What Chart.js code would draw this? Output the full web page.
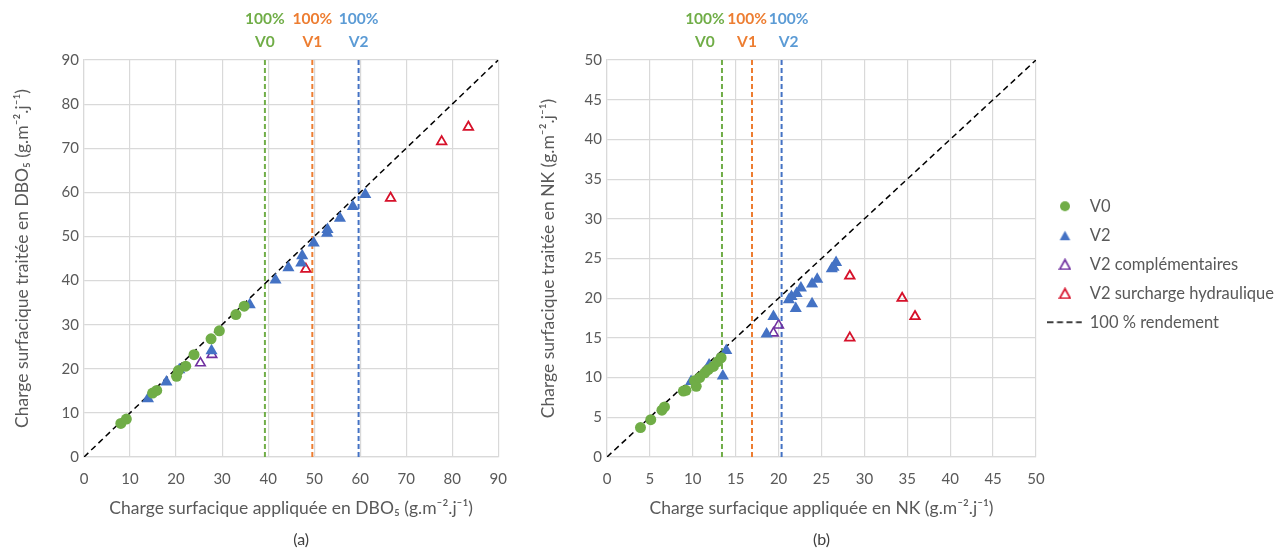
<!DOCTYPE html>
<html>
<head>
<meta charset="utf-8">
<script src="https://cdn.jsdelivr.net/npm/chart.js@4.4.1/dist/chart.umd.min.js"></script>
<style>
  body { margin: 0; background: #fff; width: 1277px; height: 551px; overflow: hidden; position: relative; }
  #chartA { position: absolute; left: 0; top: 0; }
  #chartB { position: absolute; left: 520px; top: 0; }
</style>
</head>
<body>
<canvas id="chartA" width="520" height="551"></canvas>
<canvas id="chartB" width="764" height="551"></canvas>
<script>
// (a) DBO5
const DBO_V0_X = [8.0, 9.2, 14.9, 15.8, 20.1, 20.5, 22.1, 23.9, 27.6, 29.4, 33.0, 34.8];
const DBO_V0_Y = [7.6, 8.6, 14.5, 15.1, 18.3, 19.6, 20.6, 23.2, 26.8, 28.6, 32.3, 34.2];
const DBO_V2_X = [13.9, 17.9, 20.7, 27.7, 36.0, 41.6, 44.4, 47.2, 47.4, 49.9, 52.8, 52.9, 55.6, 58.4, 61.1];
const DBO_V2_Y = [13.2, 17.0, 19.8, 24.1, 34.5, 40.1, 42.9, 44.0, 45.6, 48.5, 50.7, 51.6, 54.1, 56.8, 59.5];
const DBO_COMP_X = [25.3, 27.8];
const DBO_COMP_Y = [21.3, 23.2];
const DBO_SURCH_X = [48.2, 66.6, 77.7, 83.5];
const DBO_SURCH_Y = [42.6, 58.7, 71.5, 74.8];
const DBO_REF_LINES = [39.3, 49.6, 59.65]; // 100% V0, V1, V2

// (b) NK
const NK_V0_X = [3.9, 5.1, 6.4, 6.7, 8.9, 9.2, 10.4, 10.2, 10.8, 11.4, 11.8, 12.4, 12.9, 13.3];
const NK_V0_Y = [3.7, 4.7, 5.9, 6.3, 8.3, 8.4, 8.9, 9.6, 10.0, 10.6, 11.0, 11.4, 12.0, 12.5];
const NK_V2_X = [9.8, 11.9, 13.5, 13.9, 18.6, 19.4, 21.2, 21.5, 22.0, 22.1, 22.6, 23.9, 23.9, 24.5, 26.2, 26.4, 26.7];
const NK_V2_Y = [9.5, 11.6, 10.2, 13.4, 15.5, 17.7, 19.8, 20.2, 18.7, 20.6, 21.3, 19.3, 21.8, 22.4, 23.7, 23.9, 24.5];
const NK_COMP_X = [19.4, 20.0];
const NK_COMP_Y = [15.6, 16.6];
const NK_SURCH_X = [28.3, 28.3, 34.4, 35.9];
const NK_SURCH_Y = [22.8, 15.0, 20.0, 17.7];
const NK_REF_LINES = [13.4, 16.9, 20.35];

const REF_NAMES = ['V0', 'V1', 'V2'];
const SERIES_NAMES = ['V0', 'V2', 'V2 complémentaires', 'V2 surcharge hydraulique', '100 % rendement'];

const FONT = 'Lato, "Open Sans", sans-serif';
const TEXT = '#595959';
const GRID = '#D9D9D9';
const GREEN = '#70AD47', BLUE = '#4472C4', PURPLE = '#7030A0', RED = '#D6112A', ORANGE = '#ED7D31';
const LINE_COLORS = [GREEN, ORANGE, BLUE];
const LABEL_COLORS = ['#70AD47', '#ED7D31', '#5B9BD5'];

function pts(xs, ys) {
  return xs.map((x, i) => ({ x: x, y: ys[i] }));
}

function buildDatasets(s, max) {
  const sets = [
    { label: SERIES_NAMES[0], data: pts(s.v0x, s.v0y), pointStyle: 'circle', pointRadius: 5.5,
      backgroundColor: GREEN, borderColor: GREEN, borderWidth: 0 },
    { label: SERIES_NAMES[1], data: pts(s.v2x, s.v2y), pointStyle: 'triangle', pointRadius: 7,
      backgroundColor: BLUE, borderColor: BLUE, borderWidth: 0 },
    { label: SERIES_NAMES[2], data: pts(s.cx, s.cy), pointStyle: 'triangle', pointRadius: 5.5,
      backgroundColor: 'rgba(255,255,255,0)', borderColor: PURPLE, borderWidth: 1.6 },
    { label: SERIES_NAMES[3], data: pts(s.sx, s.sy), pointStyle: 'triangle', pointRadius: 5.5,
      backgroundColor: 'rgba(255,255,255,0)', borderColor: RED, borderWidth: 1.8 },
    { label: SERIES_NAMES[4], data: [{ x: 0, y: 0 }, { x: max, y: max }], showLine: true, pointRadius: 0,
      borderColor: '#000', borderWidth: 1.5, borderDash: [6, 4], backgroundColor: '#000', order: 5 }
  ];
  s.refs.forEach((v, i) => {
    sets.push({ label: 'ref' + i, data: [{ x: v, y: 0 }, { x: v, y: max }], showLine: true, pointRadius: 0,
      borderColor: LINE_COLORS[i], borderWidth: 2, borderDash: [5, 3], order: 6 });
  });
  return sets;
}

function buildScales(max, step, xTitle, yTitle, yWidth, yTitlePad) {
  return {
    x: {
      type: 'linear', min: 0, max: max,
      ticks: { stepSize: step, color: TEXT, font: { family: FONT, size: 15 }, padding: 13 },
      grid: { color: GRID, lineWidth: 1.2, drawTicks: false },
      border: { color: GRID, width: 1.2 },
      title: { display: true, text: xTitle, color: TEXT, font: { family: FONT, size: 17.5 }, padding: { top: 0, bottom: 2 } },
      afterFit: function (sc) { sc.height = 64; }
    },
    y: {
      type: 'linear', min: 0, max: max,
      ticks: { stepSize: step, color: TEXT, font: { family: FONT, size: 15 }, padding: 5 },
      grid: { color: GRID, lineWidth: 1.2, drawTicks: false },
      border: { color: GRID, width: 1.2 },
      title: { display: true, text: yTitle, color: TEXT, font: { family: FONT, size: 17.5 }, padding: { top: yTitlePad, bottom: 0 } },
      afterFit: function (sc) { sc.width = yWidth; }
    }
  };
}

// labels "100% Vx" above the dashed lines + caption below the chart
const topLabels = {
  id: 'topLabels',
  afterDraw(chart, args, opts) {
    const ctx = chart.ctx;
    const xs = chart.scales.x;
    ctx.save();
    ctx.textAlign = 'center';
    ctx.textBaseline = 'middle';
    ctx.font = '700 15.5px ' + FONT;
    opts.values.forEach((v, i) => {
      const px = xs.getPixelForValue(v) + opts.shift[i];
      ctx.fillStyle = LABEL_COLORS[i];
      ctx.fillText('100%', px, 19);
      ctx.fillText(REF_NAMES[i], px, 42);
    });
    ctx.font = '16px ' + FONT;
    ctx.fillStyle = '#404040';
    ctx.fillText(opts.caption, (chart.chartArea.left + chart.chartArea.right) / 2 + opts.captionShift, 540);
    ctx.restore();
  }
};

// legend markers as small canvases (so every item keeps the same box width)
function marker(w, h, draw) {
  const c = document.createElement('canvas');
  c.width = w; c.height = h;
  draw(c.getContext('2d'));
  return c;
}
function tri(ctx, fill, stroke) {
  ctx.beginPath();
  ctx.moveTo(6.5, 1.5); ctx.lineTo(11.8, 11); ctx.lineTo(1.2, 11); ctx.closePath();
  if (fill) { ctx.fillStyle = fill; ctx.fill(); }
  if (stroke) { ctx.strokeStyle = stroke; ctx.lineWidth = 1.7; ctx.stroke(); }
}
const LEGEND_MARKERS = [
  marker(12, 12, c => { c.fillStyle = GREEN; c.beginPath(); c.arc(6, 6, 5, 0, Math.PI * 2); c.fill(); }),
  marker(13, 12, c => tri(c, BLUE, null)),
  marker(13, 12, c => tri(c, null, PURPLE)),
  marker(13, 12, c => tri(c, null, RED)),
  marker(35, 4, c => { c.strokeStyle = '#000'; c.lineWidth = 1.5; c.setLineDash([6, 3.5]); c.beginPath(); c.moveTo(0, 2); c.lineTo(35, 2); c.stroke(); })
];

new Chart(document.getElementById('chartA'), {
  type: 'scatter',
  data: {
    datasets: buildDatasets({ v0x: DBO_V0_X, v0y: DBO_V0_Y, v2x: DBO_V2_X, v2y: DBO_V2_Y, cx: DBO_COMP_X, cy: DBO_COMP_Y,
      sx: DBO_SURCH_X, sy: DBO_SURCH_Y, refs: DBO_REF_LINES }, 90)
  },
  options: {
    responsive: false,
    animation: false,
    layout: { padding: { top: 60, right: 18, bottom: 30, left: 0 } },
    scales: buildScales(90, 10, 'Charge surfacique appliquée en DBO₅ (g.m⁻².j⁻¹)', 'Charge surfacique traitée en DBO₅ (g.m⁻².j⁻¹)', 84, 12),
    plugins: {
      legend: { display: false },
      tooltip: { enabled: false },
      topLabels: { values: DBO_REF_LINES, shift: [0, 0, 0], caption: '(a)', captionShift: 10 }
    }
  },
  plugins: [topLabels]
});

new Chart(document.getElementById('chartB'), {
  type: 'scatter',
  data: {
    datasets: buildDatasets({ v0x: NK_V0_X, v0y: NK_V0_Y, v2x: NK_V2_X, v2y: NK_V2_Y, cx: NK_COMP_X, cy: NK_COMP_Y,
      sx: NK_SURCH_X, sy: NK_SURCH_Y, refs: NK_REF_LINES }, 50)
  },
  options: {
    responsive: false,
    animation: false,
    layout: { padding: { top: 60, right: 0, bottom: 30, left: 0 } },
    scales: buildScales(50, 5, 'Charge surfacique appliquée en NK (g.m⁻².j⁻¹)', 'Charge surfacique traitée en NK (g.m⁻².j⁻¹)', 87, 18),
    plugins: {
      legend: {
        position: 'right',
        align: 'start',
        maxWidth: 300,
        title: { display: true, text: '', font: { size: 10 }, padding: { top: 113.5, bottom: 0 } },
        labels: {
          usePointStyle: true,
          pointStyleWidth: 33,
          boxHeight: 8,
          padding: 12.5,
          color: TEXT,
          font: { family: FONT, size: 16.5 },
          generateLabels(chart) {
            const items = Chart.defaults.plugins.legend.labels.generateLabels(chart)
              .filter(it => !it.text.startsWith('ref'));
            items.forEach((it, i) => { it.pointStyle = LEGEND_MARKERS[i]; });
            return items;
          }
        }
      },
      tooltip: { enabled: false },
      topLabels: { values: NK_REF_LINES, shift: [-17, -5, 7], caption: '(b)', captionShift: 0 }
    }
  },
  plugins: [topLabels]
});
</script>
</body>
</html>
